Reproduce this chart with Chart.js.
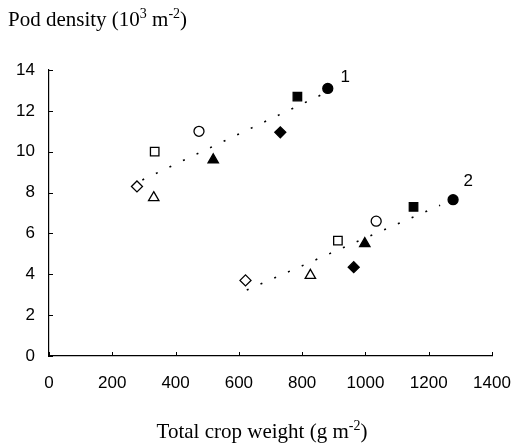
<!DOCTYPE html>
<html>
<head>
<meta charset="utf-8">
<script src="https://cdn.jsdelivr.net/npm/chart.js@4/dist/chart.umd.min.js"></script>
<style>
  html, body { margin: 0; padding: 0; background: #fff; }
  #wrap { width: 515px; height: 448px; }
</style>
</head>
<body>
<div id="wrap"><canvas id="chart" width="515" height="448"></canvas></div>
<script>
// marker order: open diamond, open triangle, open square, open circle,
// filled diamond, filled triangle, filled square, filled circle
const markerStyles = ['rectRot', 'triangle', 'rect', 'circle', 'rectRot', 'triangle', 'rect', 'circle'];
const markerFilled = [false, false, false, false, true, true, true, true];

const group1X = [278, 331, 334, 474, 731, 519, 785, 881];
const group1Y = [8.3, 7.75, 10.0, 11.0, 10.95, 9.6, 12.7, 13.1];
const group2X = [621, 826, 913, 1034, 963, 998, 1152, 1277];
const group2Y = [3.7, 3.95, 5.65, 6.6, 4.35, 5.5, 7.3, 7.65];

// fitted lines (end points)
const trend1X = [295, 860];
const trend1Y = [8.62, 12.78];
const trend2X = [625, 1236];
const trend2Y = [3.23, 7.38];

// group labels
const groupNames = ['1', '2'];
const groupLabelX = [936, 1325];
const groupLabelY = [13.65, 8.55];

const xTicks = [0, 200, 400, 600, 800, 1000, 1200, 1400];
const yTicks = [0, 2, 4, 6, 8, 10, 12, 14];

function pts(xs, ys) {
  return xs.map((x, i) => ({ x: x, y: ys[i] }));
}

function markerSet(xs, ys) {
  return {
    type: 'scatter',
    data: pts(xs, ys),
    pointStyle: markerStyles,
    pointRadius: markerStyles.map(s => s === 'circle' ? 5 : s === 'rectRot' ? 5.5 : 6),
    backgroundColor: markerFilled.map(f => f ? '#000' : '#fff'),
    borderColor: '#000',
    borderWidth: 1.3,
    order: 1
  };
}

function trendSet(xs, ys) {
  return {
    type: 'line',
    data: pts(xs, ys),
    borderColor: '#000',
    borderWidth: 1.6,
    borderDash: [2, 13],
    pointRadius: 0,
    fill: false,
    order: 2
  };
}

// titles, inside ticks and group numbers
const extras = {
  id: 'extras',
  afterDraw(chart) {
    const c = chart.ctx;
    const xs = chart.scales.x, ys = chart.scales.y;
    c.save();
    c.strokeStyle = '#000';
    c.lineWidth = 1;
    xTicks.forEach(v => {
      const px = Math.round(xs.getPixelForValue(v)) + 0.5;
      c.beginPath(); c.moveTo(px, ys.bottom); c.lineTo(px, ys.bottom - 4); c.stroke();
    });
    yTicks.forEach(v => {
      const py = Math.round(ys.getPixelForValue(v)) + 0.5;
      c.beginPath(); c.moveTo(xs.left, py); c.lineTo(xs.left + 4, py); c.stroke();
    });

    c.fillStyle = '#000';
    c.font = '17px "Liberation Sans"';
    c.textAlign = 'center';
    c.textBaseline = 'middle';
    groupNames.forEach((n, i) => {
      c.fillText(n, xs.getPixelForValue(groupLabelX[i]), ys.getPixelForValue(groupLabelY[i]));
    });

    // text with superscripts
    function supText(parts, x, y, align) {
      c.textBaseline = 'alphabetic';
      c.textAlign = 'left';
      const big = '21px "Liberation Serif"', small = '14px "Liberation Serif"';
      let total = 0;
      parts.forEach(p => { c.font = p.sup ? small : big; total += c.measureText(p.t).width; });
      let cx = align === 'center' ? x - total / 2 : x;
      parts.forEach(p => {
        c.font = p.sup ? small : big;
        c.fillText(p.t, cx, p.sup ? y - 8 : y);
        cx += c.measureText(p.t).width;
      });
    }
    supText([{ t: 'Pod density (10' }, { t: '3', sup: true }, { t: ' m' }, { t: '-2', sup: true }, { t: ')' }], 8, 26, 'left');
    supText([{ t: 'Total crop weight (g m' }, { t: '-2', sup: true }, { t: ')' }], 262, 438, 'center');
    c.restore();
  }
};

new Chart(document.getElementById('chart'), {
  data: {
    datasets: [
      markerSet(group1X, group1Y),
      markerSet(group2X, group2Y),
      trendSet(trend1X, trend1Y),
      trendSet(trend2X, trend2Y)
    ]
  },
  options: {
    responsive: false,
    animation: false,
    layout: { padding: { top: 70, right: 23, left: 0, bottom: 0 } },
    plugins: { legend: { display: false }, tooltip: { enabled: false } },
    scales: {
      x: {
        type: 'linear',
        min: 0, max: 1400,
        afterBuildTicks: s => { s.ticks = xTicks.map(v => ({ value: v })); },
        afterFit: s => { s.height = 92; s.paddingRight = 0; s.paddingLeft = 0; },
        grid: { display: false },
        border: { color: '#000', width: 1.2 },
        ticks: { color: '#000', font: { family: 'Liberation Sans', size: 17 }, padding: 9, maxRotation: 0, callback: v => String(v) }
      },
      y: {
        type: 'linear',
        min: 0, max: 14,
        afterBuildTicks: s => { s.ticks = yTicks.map(v => ({ value: v })); },
        afterFit: s => { s.width = 49; },
        grid: { display: false },
        border: { color: '#000', width: 1.2 },
        ticks: { color: '#000', font: { family: 'Liberation Sans', size: 17 }, padding: 6, callback: v => String(v) }
      }
    }
  },
  plugins: [extras]
});
</script>
</body>
</html>
